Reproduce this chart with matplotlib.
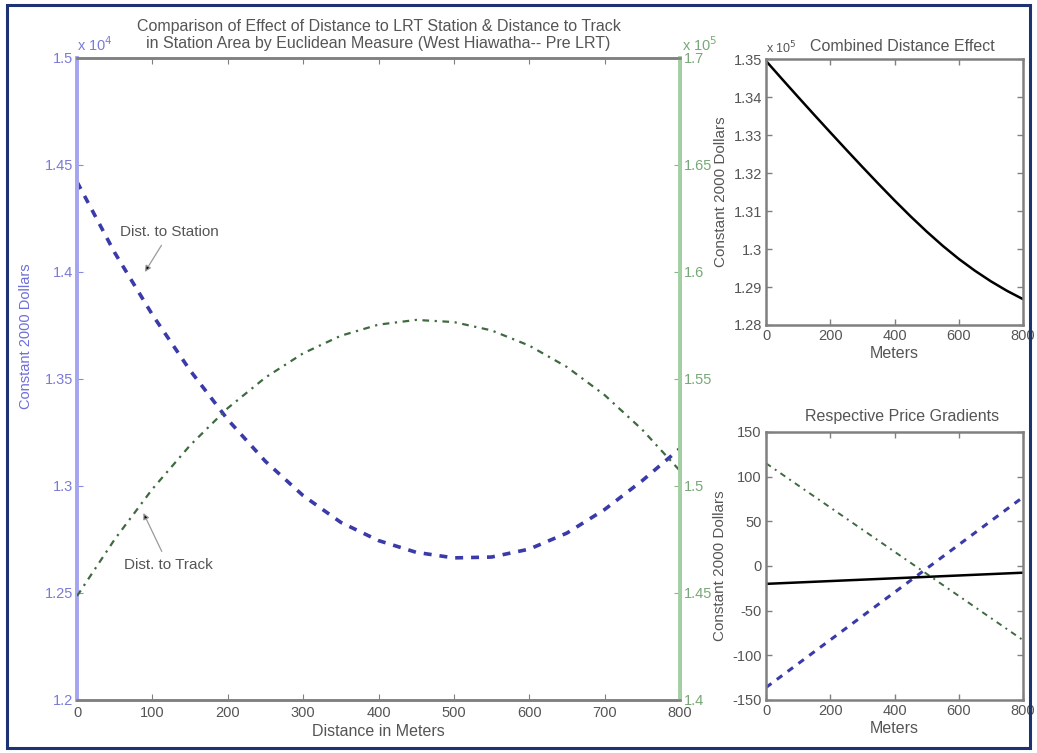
import matplotlib
matplotlib.use("Agg")
import matplotlib.pyplot as plt
from matplotlib.patches import Rectangle
from matplotlib.ticker import FuncFormatter

plt.rcParams['font.family'] = ['Liberation Sans', 'DejaVu Sans']
plt.rcParams['axes.unicode_minus'] = False

# Distance from the line (m), sampled every 50 m
meters = [0, 50, 100, 150, 200, 250, 300, 350, 400, 450,
          500, 550, 600, 650, 700, 750, 800]

# Price effect of distance to LRT station (constant 2000 dollars)
station_effect = [14421, 14090, 13800, 13540, 13310, 13115, 12955, 12830, 12745,
                  12690, 12664, 12668, 12705, 12780, 12890, 13025, 13175]

# Price effect of distance to track (constant 2000 dollars)
track_effect = [144860, 147510, 149860, 151900, 153640, 155070, 156200, 157020,
                157540, 157760, 157660, 157270, 156560, 155560, 154250, 152630,
                150710]

# Combined distance effect (constant 2000 dollars)
combined_effect = [134950, 134472, 134000, 133532, 133070, 132612, 132160, 131715,
                   131280, 130860, 130460, 130085, 129740, 129430, 129150, 128900,
                   128680]

# Price gradients ($ per meter), straight lines
grad_m = [0, 800]
grad_station = [-136, 77]
grad_track = [115, -83]
grad_combined = [-20, -7.5]

BLUE = '#3a3aa8'
GREEN = '#3f6a3f'
GREY = '#808080'
TXT = '#555555'
TICK_FS = 10.5
LABEL_FS = 11.5

fig = plt.figure(figsize=(10.37, 7.53), dpi=100)
fig.patch.set_facecolor('white')
fig.patches.append(Rectangle((0.007, 0.006), 0.986, 0.987, transform=fig.transFigure,
                             fill=False, edgecolor='#1c3275', linewidth=2.2))


def style_box(ax):
    for s in ax.spines.values():
        s.set_color(GREY)
        s.set_linewidth(1.8)
    ax.tick_params(direction='in', length=4, width=1, colors=GREY, pad=3,
                   labelcolor=TXT, labelsize=TICK_FS, top=True, right=True)


# ---- main panel: station and track effects on twin axes ----
ax = fig.add_axes([0.0743, 0.0704, 0.5814, 0.8526])
ax2 = ax.twinx()

ax.plot(meters, station_effect, color=BLUE, linestyle=(0, (2.2, 2.2)), linewidth=2.6)
ax2.plot(meters, track_effect, color=GREEN, linestyle=(0, (3, 2.5, 1, 2.5)), linewidth=1.6)

ax.set_xlim(0, 800)
ax.set_ylim(12000, 15000)
ax2.set_ylim(140000, 170000)
ax.set_xticks(range(0, 801, 100))
ax.set_yticks([12000, 12500, 13000, 13500, 14000, 14500, 15000])
ax2.set_yticks([140000, 145000, 150000, 155000, 160000, 165000, 170000])
ax.yaxis.set_major_formatter(FuncFormatter(lambda v, p: f'{v / 1e4:g}'))
ax2.yaxis.set_major_formatter(FuncFormatter(lambda v, p: f'{v / 1e5:g}'))

for a in (ax, ax2):
    for s in a.spines.values():
        s.set_color(GREY)
        s.set_linewidth(1.8)
ax.spines['left'].set_color('#a4a4f0')
ax.spines['left'].set_linewidth(2.8)
ax2.spines['right'].set_color('#a3cfa3')
ax2.spines['right'].set_linewidth(2.8)
ax2.spines['left'].set_visible(False)

ax.tick_params(axis='x', direction='in', length=4, colors=GREY, labelcolor=TXT,
               labelsize=TICK_FS, top=True, pad=4)
ax.tick_params(axis='y', direction='in', length=4, colors='#8a8ae0',
               labelcolor='#7a7ad8', labelsize=TICK_FS, right=False, pad=3)
ax2.tick_params(axis='y', direction='in', length=4, colors='#88b888',
                labelcolor='#78a878', labelsize=TICK_FS, pad=3)

ax.set_xlabel('Distance in Meters', fontsize=LABEL_FS, color=TXT, labelpad=3)
ax.set_ylabel('Constant 2000 Dollars', fontsize=LABEL_FS - 1, color='#6e6ed8')
ax.yaxis.set_label_coords(-0.073, 0.567)
ax.set_title('Comparison of Effect of Distance to LRT Station & Distance to Track\n'
             'in Station Area by Euclidean Measure (West Hiawatha-- Pre LRT)',
             fontsize=LABEL_FS, color=TXT, pad=7, linespacing=1.15)
ax.text(0.0, 1.006, r'x 10$^4$', transform=ax.transAxes, fontsize=TICK_FS,
        color='#7a7ad8', ha='left', va='bottom')
ax2.text(1.004, 1.006, r'x 10$^5$', transform=ax2.transAxes, fontsize=TICK_FS,
         color='#78a878', ha='left', va='bottom')

arrow = dict(arrowstyle='-|>', edgecolor='#9a9a9a', facecolor='black', lw=0.9,
             mutation_scale=9, shrinkA=3, shrinkB=0)
ax.annotate('Dist. to Station', xy=(90, 14000), xytext=(123, 14187),
            fontsize=LABEL_FS - 0.5, color=TXT, ha='center', va='center',
            arrowprops=arrow)
ax2.annotate('Dist. to Track', xy=(88, 148740), xytext=(121, 146310),
             fontsize=LABEL_FS - 0.5, color=TXT, ha='center', va='center',
             arrowprops=arrow)

# ---- top right: combined distance effect ----
axc = fig.add_axes([0.7387, 0.5684, 0.2478, 0.3532])
axc.plot(meters, combined_effect, color='black', linewidth=1.8)
axc.set_xlim(0, 800)
axc.set_ylim(128000, 135000)
axc.set_xticks([0, 200, 400, 600, 800])
axc.set_yticks([128000 + 1000 * i for i in range(8)])
axc.yaxis.set_major_formatter(FuncFormatter(lambda v, p: f'{v / 1e5:g}'))
style_box(axc)
axc.set_xlabel('Meters', fontsize=LABEL_FS, color=TXT, labelpad=2)
axc.set_ylabel('Constant 2000 Dollars', fontsize=LABEL_FS - 0.5, color=TXT, labelpad=4)
axc.set_title('Combined Distance Effect', fontsize=LABEL_FS, color=TXT, pad=6, x=0.53)
axc.text(0.0, 1.012, r'x 10$^5$', transform=axc.transAxes, fontsize=TICK_FS - 1.5,
         color=TXT, ha='left', va='bottom')

# ---- bottom right: price gradients ----
axg = fig.add_axes([0.7387, 0.0704, 0.2478, 0.3559])
axg.plot(grad_m, grad_station, color=BLUE, linestyle=(0, (2.2, 2.2)), linewidth=2.2)
axg.plot(grad_m, grad_track, color=GREEN, linestyle=(0, (3, 2.5, 1, 2.5)), linewidth=1.4)
axg.plot(grad_m, grad_combined, color='black', linewidth=1.8)
axg.set_xlim(0, 800)
axg.set_ylim(-150, 150)
axg.set_xticks([0, 200, 400, 600, 800])
axg.set_yticks([-150, -100, -50, 0, 50, 100, 150])
style_box(axg)
axg.set_xlabel('Meters', fontsize=LABEL_FS, color=TXT, labelpad=2)
axg.set_ylabel('Constant 2000 Dollars', fontsize=LABEL_FS - 0.5, color=TXT, labelpad=4)
axg.set_title('Respective Price Gradients', fontsize=LABEL_FS, color=TXT, pad=8, x=0.53)

fig.savefig('out.png', dpi=100)
